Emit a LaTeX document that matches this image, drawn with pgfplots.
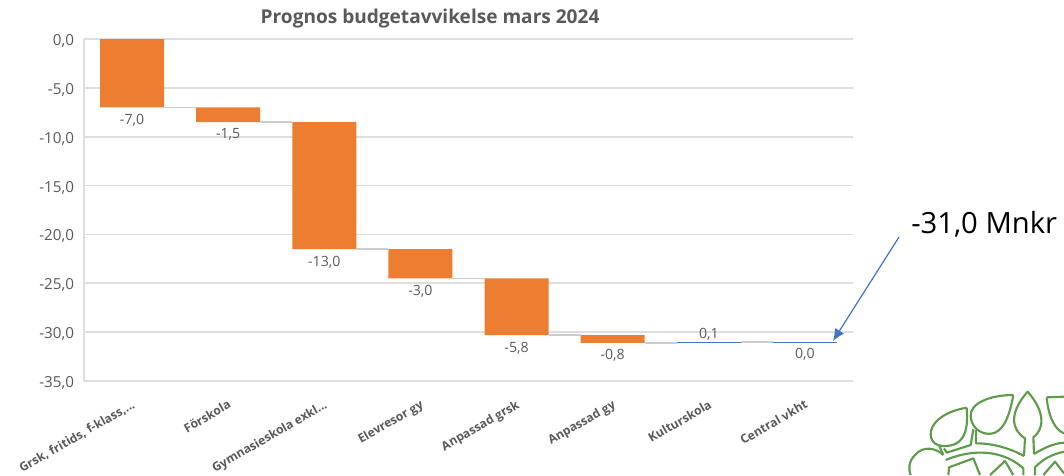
\documentclass[border=0pt]{standalone}
\usepackage{fontspec}
\setmainfont{Open Sans}
\usepackage{pgfplots}
\pgfplotsset{compat=1.18}
\usepackage{pgfplotstable}
\usetikzlibrary{arrows.meta}

\definecolor{txtgrey}{HTML}{595959}
\definecolor{gridgrey}{HTML}{DEDEDE}
\definecolor{connect}{HTML}{CCCCCC}
\definecolor{barorange}{HTML}{ED7D31}
\definecolor{barblue}{HTML}{4472C4}
\definecolor{logogreen}{HTML}{5E9C4C}

\newcommand\dd{.{}.{}.}

% x, start of the bar (invisible base), change
\pgfplotstableread{
x base orange blue
0 0     -7.0  0
1 -7.0  -1.5  0
2 -8.5  -13.0 0
3 -21.5 -3.0  0
4 -24.5 -5.8  0
5 -30.3 -0.8  0
6 -31.1 0     0.1
7 -31.0 0     0
}\bars

% labels under the bars: x, bar end, value
\pgfplotstableread{
x y val
0 -7.0  -7.0
1 -8.5  -1.5
2 -21.5 -13.0
3 -24.5 -3.0
4 -30.3 -5.8
5 -31.1 -0.8
7 -31.0 0.0
}\labelsbelow

\pgfplotsset{
  base/.style={
    scale only axis, width=576.75pt, height=256.5pt,
    xmin=-0.5, xmax=7.5, ymin=-35, ymax=0,
    /pgf/number format/.cd, use comma, fixed, fixed zerofill, precision=1, assume math mode=true,
    /pgfplots/.cd,
  },
}

\begin{document}
\begin{tikzpicture}[x=0.75pt, y=-0.75pt]
\useasboundingbox (0,0) rectangle (1064,475);

\begin{axis}[
  base, at={(63pt,-285.75pt)}, anchor=south west,
  ybar stacked, bar width=48pt,
  axis x line=bottom, axis y line=left,
  axis line style={gridgrey, line width=1.3pt, -},
  ymajorgrids, grid style={gridgrey, line width=1.3pt},
  major tick length=0pt,
  ytick={0,-5,-10,-15,-20,-25,-30,-35},
  xtick={0,1,2,3,4,5,6,7},
  xticklabels={{Grsk, fritids, f-klass,\dd\hspace{11pt}},Förskola,{Gymnasieskola exkl\dd\hspace{11pt}},Elevresor gy,Anpassad grsk,Anpassad gy,Kulturskola,Central vkht},
  tick label style={text=txtgrey},
  yticklabel style={font=\fontsize{11.4}{13}\selectfont, xshift=-4pt, yshift=-1.5pt},
  xticklabel style={font=\fontsize{9.1}{11}\selectfont\bfseries, rotate=30, anchor=north east, xshift=-4pt, yshift=-8pt},
  title={Prognos budgetavvikelse mars 2024},
  title style={at={(0.45,1)}, anchor=south, yshift=-1pt, text=txtgrey, font=\fontsize{14.3}{17}\selectfont\bfseries},
]
\addplot[draw=none, fill=none] table[x=x, y=base] {\bars};
\addplot[draw=none, fill=barorange] table[x=x, y=orange] {\bars};
\addplot[draw=none, fill=barblue] table[x=x, y=blue] {\bars};
\end{axis}

\begin{axis}[
  base, at={(63pt,-285.75pt)}, anchor=south west,
  hide axis, clip=false, unbounded coords=jump,
]
% connectors between the bars
\addplot[connect, line width=1pt] coordinates {
  (0.333,-7.0) (0.667,-7.0) (nan,nan)
  (1.333,-8.5) (1.667,-8.5) (nan,nan)
  (2.333,-21.5) (2.667,-21.5) (nan,nan)
  (3.333,-24.5) (3.667,-24.5) (nan,nan)
  (4.333,-30.3) (4.667,-30.3) (nan,nan)
  (5.333,-31.1) (5.667,-31.1) (nan,nan)
  (6.333,-31.0) (6.667,-31.0)
};
% the two bars too thin to fill
\addplot[barblue, line width=0.6pt] coordinates {
  (5.667,-31.0) (6.333,-31.0) (nan,nan)
  (6.667,-31.0) (7.333,-31.0)
};
\addplot[only marks, mark=none, point meta=explicit,
  nodes near coords, nodes near coords align={anchor=north},
  every node near coord/.append style={text=txtgrey, font=\fontsize{10.6}{12}\selectfont, yshift=-1.5pt}]
  table[x=x, y=y, meta=val] {\labelsbelow};
\addplot[only marks, mark=none, point meta=explicit,
  nodes near coords, nodes near coords align={anchor=south},
  every node near coord/.append style={text=txtgrey, font=\fontsize{10.6}{12}\selectfont, yshift=-2pt}]
  table[x=x, y=y, meta=val] {
x y val
6 -31.0 0.1
};
\end{axis}

% callout
\draw[barblue, line width=0.9pt, -{Latex[length=9pt, width=8pt]}] (899,237) -- (833,341);
\node[anchor=west, font=\fontsize{21.9}{26}\selectfont, text=black, inner sep=0pt] at (911,224) {-31,0 Mnkr};

% logo, bottom right, cut off by the page
\begin{scope}
\clip (0,0) rectangle (1064,475);
\begin{scope}[shift={(880,380)}, x=0.25pt, y=-0.25pt, logogreen, line width=1.6pt, line join=round, fill=none]
\draw (432,228) -- (435,175) .. controls (395,150) and (385,100) .. (443,35)
  .. controls (500,100) and (490,150) .. (460,172) -- (462,222);
\draw (260,83) .. controls (190,95) and (150,130) .. (152,165)
  .. controls (155,190) and (170,198) .. (195,198)
  .. controls (240,198) and (268,170) .. (260,83);
\draw (400,45) .. controls (330,45) and (268,70) .. (272,110)
  .. controls (275,150) and (315,170) .. (345,158)
  .. controls (375,145) and (390,100) .. (400,45);
\draw (500,52) .. controls (505,110) and (525,150) .. (552,160);
\draw (500,52) -- (552,50);
\draw (190,225) .. controls (170,205) and (130,195) .. (105,225)
  .. controls (85,245) and (85,270) .. (92,285);
\draw (190,225) -- (178,198);
\draw (192,205) -- (200,218) -- (272,195) -- (280,148);
\draw (288,150) -- (288,190) .. controls (340,190) and (390,205) .. (432,228);
\draw (197,240) .. controls (280,205) and (370,210) .. (430,265) -- (430,285);
\draw (462,222) .. controls (490,205) and (520,190) .. (552,188);
\draw (465,285) -- (465,262) .. controls (490,235) and (520,222) .. (552,215);
\draw (205,285) -- (207,262) -- (280,235) -- (300,285);
\draw (330,285) -- (375,243) -- (400,285);
\draw (490,285) -- (525,245) -- (552,280);
\end{scope}
\end{scope}
\end{tikzpicture}
\end{document}
